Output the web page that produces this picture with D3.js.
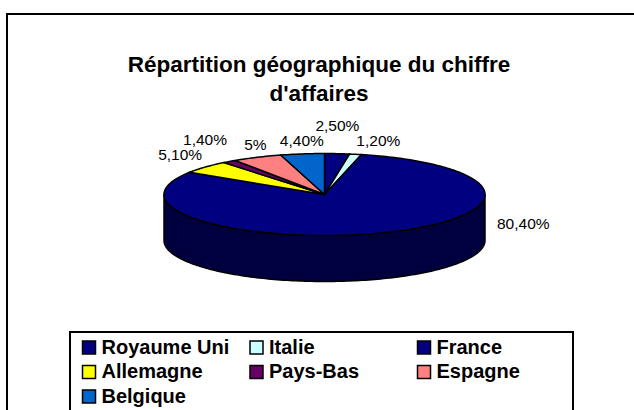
<!DOCTYPE html>
<html>
<head>
<meta charset="utf-8">
<script src="https://cdn.jsdelivr.net/npm/d3@7"></script>
<style>
  body { margin: 0; background: #fff; }
  text { font-family: "Liberation Sans", Arial, sans-serif; }
</style>
</head>
<body>
<div id="chart"></div>
<script>
// data
const categories = ["Royaume Uni", "Italie", "France", "Allemagne", "Pays-Bas", "Espagne", "Belgique"];
const values = [2.5, 1.2, 80.4, 5.1, 1.4, 5, 4.4];
const valueLabels = ["2,50%", "1,20%", "80,40%", "5,10%", "1,40%", "5%", "4,40%"];
const colors = ["#000080", "#ccffff", "#000080", "#ffff00", "#660066", "#ff8080", "#0066cc"];
const titleLines = ["Répartition géographique du chiffre", "d'affaires"];

const width = 634, height = 410;

const svg = d3.select("#chart")
  .append("svg")
    .attr("width", width)
    .attr("height", height);

// outer chart frame
svg.append("rect")
  .attr("x", 7).attr("y", 14)
  .attr("width", 700).attr("height", 500)
  .attr("fill", "#fff")
  .attr("stroke", "#000")
  .attr("stroke-width", 2);

// title
svg.append("g")
  .selectAll("text")
  .data(titleLines)
  .enter()
  .append("text")
    .attr("x", 319)
    .attr("y", (d, i) => 72 + i * 29)
    .attr("text-anchor", "middle")
    .attr("font-size", 22.5)
    .attr("font-weight", "bold")
    .text(d => d);

// 3D pie geometry
const cx = 324.5, cy = 194.5, rx = 160.5, ry = 41, depth = 46;

const pie = d3.pie().sort(null).value(d => d.value);
const arcs = pie(categories.map((c, i) => ({name: c, value: values[i], color: colors[i], label: valueLabels[i]})));

const px = a => cx + rx * Math.sin(a);
const py = a => cy - ry * Math.cos(a);

function ellipsePoints(a0, a1, dy) {
  const n = Math.max(2, Math.ceil((a1 - a0) / 0.02));
  return d3.range(n + 1).map(k => {
    const a = a0 + (a1 - a0) * k / n;
    return [px(a), py(a) + dy];
  });
}

const line = d3.line();

// side walls (front half only: angles between 90° and 270°)
const sideG = svg.append("g");
arcs.forEach(d => {
  const s = Math.max(d.startAngle, Math.PI / 2);
  const e = Math.min(d.endAngle, Math.PI * 3 / 2);
  if (e <= s) return;
  const top = ellipsePoints(s, e, 0);
  const bottom = ellipsePoints(s, e, depth).reverse();
  sideG.append("path")
    .attr("d", line(top.concat(bottom)) + "Z")
    .attr("fill", d3.color(d.data.color).darker(2))
    .attr("stroke", "#000")
    .attr("stroke-width", 1.5)
    .attr("stroke-linejoin", "round");
});

// top faces
svg.append("g")
  .selectAll("path")
  .data(arcs)
  .enter()
  .append("path")
    .attr("d", d => line([[cx, cy]].concat(ellipsePoints(d.startAngle, d.endAngle, 0))) + "Z")
    .attr("fill", d => d.data.color)
    .attr("stroke", "#000")
    .attr("stroke-width", 1.5)
    .attr("stroke-linejoin", "round");

// value labels, placed around the rim; nearer-the-top labels get pushed up on overlap
const labelG = svg.append("g").attr("font-size", 15.5);
const placed = [];
const order = arcs.slice().sort((a, b) =>
  Math.abs(Math.sin((b.startAngle + b.endAngle) / 2)) - Math.abs(Math.sin((a.startAngle + a.endAngle) / 2)));

order.forEach(d => {
  const m = (d.startAngle + d.endAngle) / 2;
  const t = labelG.append("text").text(d.data.label);
  const w = t.node().getComputedTextLength();
  let x, y, anchor;
  if (Math.cos(m) < 0) {
    // front-facing slice: label beside the pie body
    x = cx + rx + 12;
    y = cy + depth * 0.75;
    anchor = "start";
  } else {
    const s = Math.sin(m);
    x = cx + (rx + 4) * s;
    y = cy - (ry + 4) * Math.cos(m) - 4;
    anchor = s > 0.15 ? "start" : (s < -0.5 ? "end" : "middle");
  }
  const left = () => anchor === "start" ? x : anchor === "end" ? x - w : x - w / 2;
  let box = {x0: left(), x1: left() + w, y0: y - 11, y1: y + 3};
  let moved = true;
  while (moved) {
    moved = false;
    placed.forEach(b => {
      if (box.x0 < b.x1 && box.x1 > b.x0 && box.y0 < b.y1 && box.y1 > b.y0) {
        y = b.y0 - 4;
        box = {x0: left(), x1: left() + w, y0: y - 11, y1: y + 3};
        moved = true;
      }
    });
  }
  placed.push(box);
  t.attr("x", x).attr("y", y).attr("text-anchor", anchor);
});

// legend
const legendX = 70, legendY = 332, colW = 167.5, rowH = 24.5;
svg.append("rect")
  .attr("x", legendX).attr("y", legendY)
  .attr("width", 503).attr("height", 120)
  .attr("fill", "#fff")
  .attr("stroke", "#000")
  .attr("stroke-width", 2);

const item = svg.append("g")
  .selectAll("g")
  .data(categories)
  .enter()
  .append("g")
    .attr("transform", (d, i) => "translate(" + (legendX + 12.5 + (i % 3) * colW) + "," + (legendY + 9 + Math.floor(i / 3) * rowH) + ")");

item.append("rect")
  .attr("width", 13).attr("height", 13)
  .attr("fill", (d, i) => colors[i])
  .attr("stroke", "#000")
  .attr("stroke-width", 1.5);

item.append("text")
  .attr("x", 19)
  .attr("y", 12.5)
  .attr("font-size", 20)
  .attr("font-weight", "bold")
  .text(d => d);
</script>
</body>
</html>
